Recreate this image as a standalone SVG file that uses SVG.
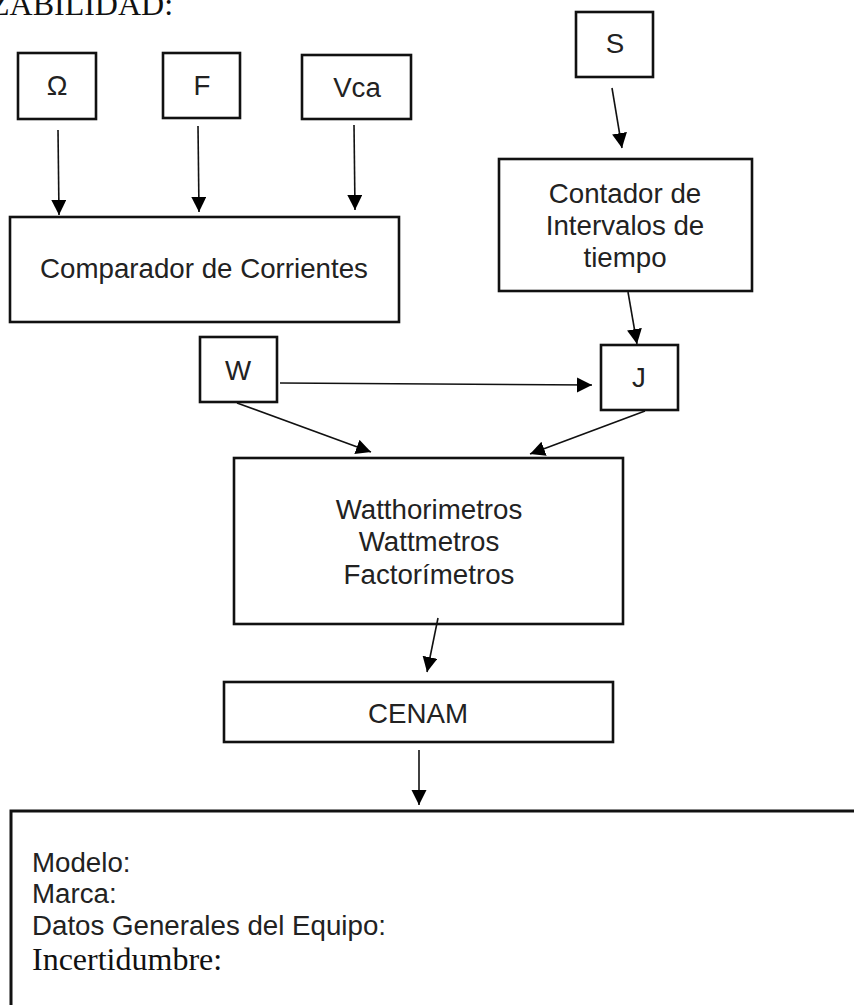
<svg xmlns="http://www.w3.org/2000/svg" width="854" height="1005" viewBox="0 0 854 1005">
  <style>
    .box { fill: #fff; stroke: #111; stroke-width: 2.6; }
    .lbl { font-family: "Liberation Sans", Arial, sans-serif; font-size: 27.7px; fill: #222; text-anchor: middle; }
    .info { font-family: "Liberation Sans", Arial, sans-serif; font-size: 27.7px; fill: #222; }
    .serif { font-family: "Liberation Serif", "Times New Roman", serif; font-size: 32px; fill: #111; }
    .edge { fill: none; stroke: #111; stroke-width: 1.6; marker-end: url(#arrow); }
  </style>
  <defs>
    <marker id="arrow" markerUnits="userSpaceOnUse" markerWidth="16" markerHeight="16" refX="15" refY="7.5" orient="auto">
      <path d="M0,0 L15,7.5 L0,15 Z" fill="#000"/>
    </marker>
  </defs>
  <rect width="854" height="1005" fill="#fff"/>

  <text class="serif" x="-10" y="15">ZABILIDAD:</text>

  <g id="node-omega">
    <rect class="box" x="18" y="53" width="78" height="66"/>
    <text class="lbl" x="57" y="95">Ω</text>
  </g>
  <g id="node-f">
    <rect class="box" x="163" y="53" width="77" height="65"/>
    <text class="lbl" x="202" y="95">F</text>
  </g>
  <g id="node-vca">
    <rect class="box" x="302" y="55" width="109" height="64"/>
    <text class="lbl" x="357" y="97">Vca</text>
  </g>
  <g id="node-s">
    <rect class="box" x="576" y="12" width="77" height="65"/>
    <text class="lbl" x="615" y="53">S</text>
  </g>
  <g id="node-comparador">
    <rect class="box" x="10" y="217" width="389" height="105"/>
    <text class="lbl" x="204" y="278">Comparador de Corrientes</text>
  </g>
  <g id="node-contador">
    <rect class="box" x="499" y="159" width="253" height="132"/>
    <text class="lbl" x="625" y="203">Contador de</text>
    <text class="lbl" x="625" y="235">Intervalos de</text>
    <text class="lbl" x="625" y="267">tiempo</text>
  </g>
  <g id="node-w">
    <rect class="box" x="200" y="337" width="77" height="65"/>
    <text class="lbl" x="238" y="380">W</text>
  </g>
  <g id="node-j">
    <rect class="box" x="601" y="345" width="77" height="65"/>
    <text class="lbl" x="639" y="387">J</text>
  </g>
  <g id="node-instrumentos">
    <rect class="box" x="234" y="458" width="389" height="166"/>
    <text class="lbl" x="429" y="519">Watthorimetros</text>
    <text class="lbl" x="429" y="551">Wattmetros</text>
    <text class="lbl" x="429" y="584">Factorímetros</text>
  </g>
  <g id="node-cenam">
    <rect class="box" x="224" y="682" width="389" height="60"/>
    <text class="lbl" x="418" y="723">CENAM</text>
  </g>
  <g id="node-datos">
    <rect x="11" y="811" width="870" height="220" fill="#fff" stroke="#111" stroke-width="3"/>
    <text class="info" x="32" y="872">Modelo:</text>
    <text class="info" x="32" y="903">Marca:</text>
    <text class="info" x="32" y="935">Datos Generales del Equipo:</text>
    <text class="serif" x="32" y="970">Incertidumbre:</text>
  </g>

  <g id="connectors">
    <line class="edge" x1="58" y1="130" x2="59" y2="215"/>
    <line class="edge" x1="198" y1="126" x2="199" y2="212"/>
    <line class="edge" x1="354" y1="125" x2="355" y2="210"/>
    <line class="edge" x1="612" y1="88" x2="622" y2="148"/>
    <line class="edge" x1="628" y1="292" x2="637" y2="344"/>
    <line class="edge" x1="280" y1="383" x2="592" y2="385"/>
    <line class="edge" x1="237" y1="403" x2="371" y2="452"/>
    <line class="edge" x1="645" y1="411" x2="530" y2="454"/>
    <line class="edge" x1="438" y1="618" x2="427" y2="672"/>
    <line class="edge" x1="419" y1="750" x2="419" y2="805"/>
  </g>
</svg>
